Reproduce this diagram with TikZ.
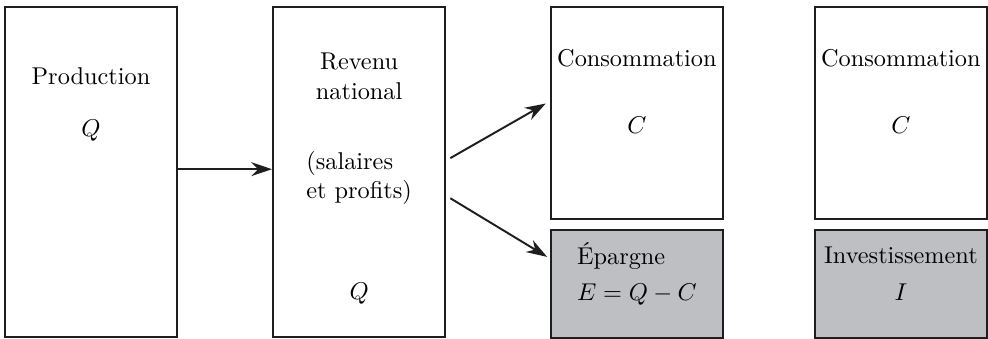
\documentclass[tikz,border=0pt]{standalone}
\usepackage{tikz}
\usetikzlibrary{arrows.meta, positioning}
\definecolor{savingGray}{RGB}{190,191,194}
\definecolor{lineDark}{RGB}{30,30,30}
\tikzset{
  flowBox/.style={draw=lineDark, thick, fill=white, minimum width=24.9mm, inner sep=0pt},
  tallBox/.style={flowBox, minimum height=47.7mm},
  upperBox/.style={flowBox, minimum height=30.7mm},
  lowerBox/.style={flowBox, fill=savingGray, minimum height=15.6mm},
  boxText/.style={align=center, inner sep=0pt},
  flowArrow/.style={-{Stealth[length=3mm,width=2mm]}, thick, draw=lineDark}
}

\begin{document}
\begin{tikzpicture}
  \useasboundingbox (0,0) rectangle (14.29,-4.90);
  \node[tallBox] (prod) at (1.316,-2.487) {};
  \node[tallBox, right=13.6mm of prod] (rev) {};
  \node[upperBox, below right=0mm and 15.0mm of rev.north east] (cons) {};
  \node[lowerBox, below=1.25mm of cons] (epar) {};
  \node[upperBox, right=13.0mm of cons] (consB) {};
  \node[lowerBox, below=1.25mm of consB] (inv) {};

  % multi-line labels sit on the baseline of their last line
  \node[boxText, below=11.4mm of prod.north, anchor=base] (prodLbl) {Production};
  \node[boxText, below=18.8mm of prod.north, anchor=base] (prodQ) {$Q$};
  \node[boxText, below=13.45mm of rev.north, anchor=base] (revLbl) {Revenu\\national};
  \node[boxText, align=left, below=27.9mm of rev.north, anchor=base] (revNote) {(salaires\\et profits)};
  \node[boxText, below=42.5mm of rev.north, anchor=base] (revQ) {$Q$};
  \node[boxText, below=8.8mm of cons.north, anchor=base] (consLbl) {Consommation};
  \node[boxText, below=18.5mm of cons.north, anchor=base] (consC) {$C$};
  \node[boxText, align=left, below=10.3mm of epar.north, anchor=base] (eparLbl) {\'Epargne\\[2.8pt]$E=Q-C$};
  \node[boxText, below=8.8mm of consB.north, anchor=base] (consBLbl) {Consommation};
  \node[boxText, below=18.5mm of consB.north, anchor=base] (consBC) {$C$};
  \node[boxText, below=10.3mm of inv.north, anchor=base] (invLbl) {Investissement\\[3.2pt]$I$};

  \draw[flowArrow] ([yshift=0.4mm]prod.east) -- ([yshift=0.4mm]rev.west);
  \draw[flowArrow] ([shift={(0.6mm,2mm)}]rev.east) -- ([shift={(-0.6mm,1.4mm)}]cons.west);
  \draw[flowArrow] ([shift={(0.6mm,-3.8mm)}]rev.east) -- ([shift={(-0.4mm,3.9mm)}]epar.west);
\end{tikzpicture}
\end{document}
